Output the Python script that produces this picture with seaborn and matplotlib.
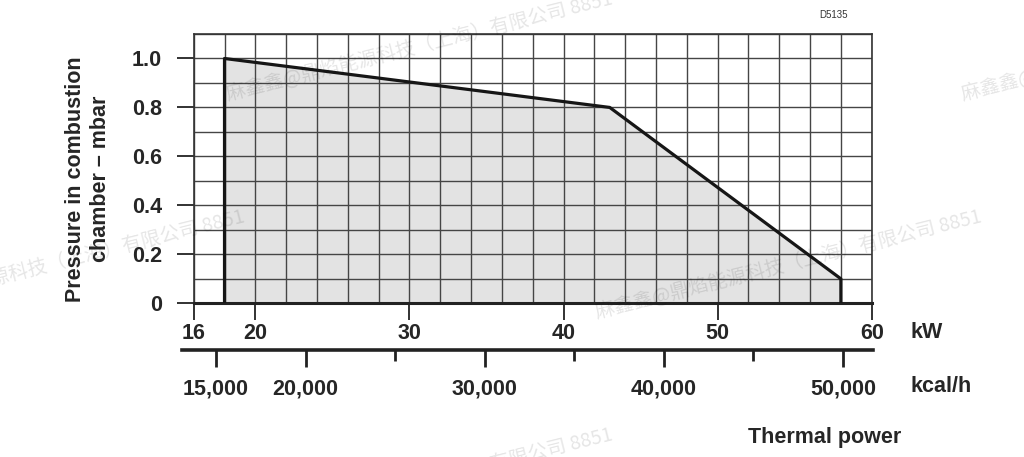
import matplotlib
matplotlib.use('Agg')
import matplotlib.pyplot as plt
from matplotlib.ticker import MultipleLocator, FixedLocator
import seaborn as sns

# working field outline of the burner
kw_points = [18, 18, 43, 58, 58]
pressure_points = [0.0, 1.0, 0.8, 0.1, 0.0]

kw_ticks = [16, 20, 30, 40, 50, 60]
pressure_ticks = [0, 0.2, 0.4, 0.6, 0.8, 1.0]
pressure_labels = ['0', '0.2', '0.4', '0.6', '0.8', '1.0']
kcal_ticks = [15000, 20000, 30000, 40000, 50000]
kcal_labels = ['15,000', '20,000', '30,000', '40,000', '50,000']
kcal_minor = [25000, 35000, 45000]
KCAL_PER_KW = 860

watermark = '麻鑫鑫@鼎焰能源科技（上海）有限公司 8851'

sns.set_style('white')
plt.rcParams['font.family'] = ['Liberation Sans', 'DejaVu Sans']
plt.rcParams['font.weight'] = 'bold'
FS = 15.5

W, H = 1024, 457
fig = plt.figure(figsize=(W / 100, H / 100), dpi=100)
ax = fig.add_axes([193.7 / W, 1 - 303.3 / H, 678 / W, 269.3 / H])

ax.fill_between(kw_points, pressure_points, color='#e3e3e3', lw=0, zorder=1)
sns.lineplot(x=kw_points, y=pressure_points, sort=False, estimator=None,
             color='#161616', lw=2.3, ax=ax, zorder=3)

ax.set_xlim(16, 60)
ax.set_ylim(0, 1.1)
ax.set_xticks(kw_ticks)
ax.set_xticklabels([str(t) for t in kw_ticks], fontsize=FS, fontweight='bold')
ax.set_yticks(pressure_ticks)
ax.set_yticklabels(pressure_labels, fontsize=FS, fontweight='bold')
ax.xaxis.set_minor_locator(MultipleLocator(2))
ax.yaxis.set_minor_locator(MultipleLocator(0.1))
ax.tick_params(which='major', length=12, width=1.3, color='#222', direction='out')
ax.tick_params(axis='x', which='major', pad=2.5, bottom=True)
ax.tick_params(axis='y', which='major', pad=11, left=True)
ax.tick_params(which='minor', length=0)
ax.set_axisbelow('line')
ax.grid(which='both', color='#454545', lw=1.0)
for s in ['top', 'right', 'left']:
    ax.spines[s].set_color('#333')
    ax.spines[s].set_linewidth(1.2)
ax.spines['bottom'].set_color('#222')
ax.spines['bottom'].set_linewidth(2.2)
ax.set_xlabel('')
ax.set_ylabel('')

# kcal/h scale below the kW scale
secax = ax.secondary_xaxis(-0.1734, functions=(lambda k: k * KCAL_PER_KW,
                                               lambda c: c / KCAL_PER_KW))
secax.set_xticks(kcal_ticks)
secax.set_xticklabels(kcal_labels, fontsize=FS, fontweight='bold')
secax.xaxis.set_minor_locator(FixedLocator(kcal_minor))
secax.tick_params(which='major', length=12, width=2, pad=8.5, color='#222')
secax.tick_params(which='minor', length=8, width=2, color='#222')
secax.spines['bottom'].set_linewidth(2.6)
secax.spines['bottom'].set_color('#222')
secax.spines['bottom'].set_bounds(15.22 * KCAL_PER_KW, 60.1 * KCAL_PER_KW)
secax.spines['bottom'].set_clip_on(False)

fig.text(911 / W, 1 - 332 / H, 'kW', ha='left', va='center', fontsize=FS, fontweight='bold')
fig.text(911 / W, 1 - 387 / H, 'kcal/h', ha='left', va='center', fontsize=FS, fontweight='bold')
fig.text(748 / W, 1 - 437 / H, 'Thermal power', ha='left', va='center', fontsize=FS, fontweight='bold')
fig.text(88 / W, 1 - 179 / H, 'Pressure in combustion\nchamber – mbar', rotation=90,
         ha='center', va='center', multialignment='center', linespacing=1.25,
         fontsize=FS, fontweight='bold')
fig.text(833 / W, 1 - 15 / H, 'D5135', ha='center', va='center', fontsize=7,
         fontweight='normal', color='#333')

# faint watermark
for px, py in [(228, 100), (597, 318), (963, 100), (-140, 318), (228, 536)]:
    fig.text(px / W, 1 - py / H, watermark, rotation=14, rotation_mode='anchor',
             ha='left', va='baseline', fontsize=14, fontweight='normal',
             color='black', alpha=0.1, family=['Noto Sans CJK SC', 'DejaVu Sans'],
             zorder=10)

fig.savefig('out.png', dpi=100)
